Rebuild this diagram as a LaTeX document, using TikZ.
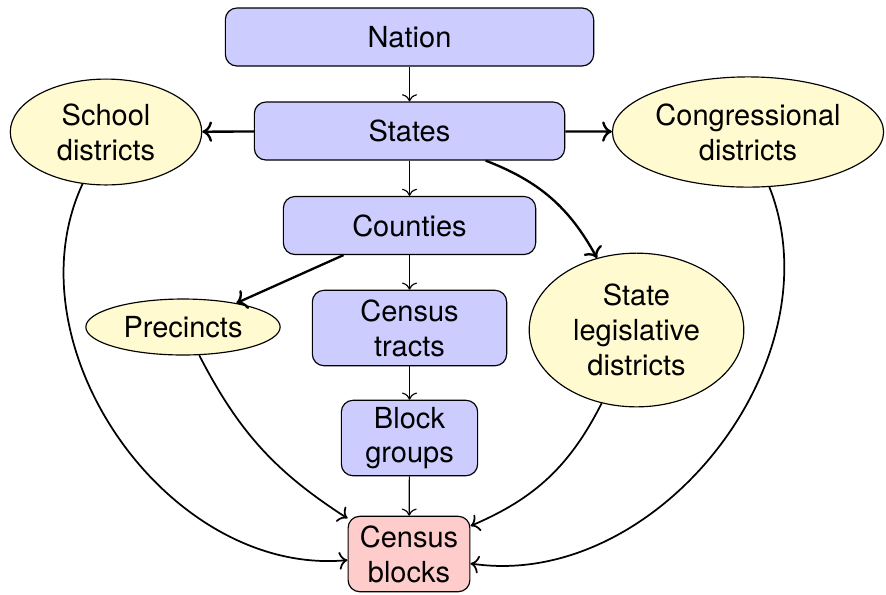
\documentclass[tikz,border=0pt]{standalone}
\usepackage{fontspec}
\setsansfont{TeX Gyre Heros}
\usepackage{tikz}
\usetikzlibrary{arrows.meta, positioning, shapes.geometric}
\definecolor{geoblue}{RGB}{204, 204, 255}
\definecolor{geoyellow}{RGB}{255, 250, 208}
\definecolor{geored}{RGB}{255, 204, 204}

\begin{document}
\begin{tikzpicture}[x=0.3448pt, y=-0.3448pt, font=\sffamily,
  unit/.style={draw, rounded corners=4pt, fill=geoblue, align=center,
    inner sep=0pt, minimum height=20pt},
  district/.style={draw, ellipse, fill=geoyellow, align=center, inner sep=0pt},
  link/.style={->, thin},
  feed/.style={->, thick},
  merge/.style={->, semithick}]

  \useasboundingbox (0,0) rectangle (886,594);

  % --- census hierarchy (boxes) ---
  \node[unit, minimum width=127pt] (nation) at (409.5,37) {Nation};
  \node[unit, minimum width=107pt] (states) at (409.5,131) {States};
  \node[unit, minimum width=87pt] (counties) at (409.5,225.5) {Counties};
  \node[unit, minimum width=67pt, minimum height=26pt] (tracts) at (409.5,328)
    {Census\\tracts};
  \node[unit, minimum width=47pt, minimum height=26pt] (groups) at (409.5,438)
    {Block\\groups};
  \node[unit, fill=geored, minimum width=42pt, minimum height=26pt] (blocks)
    at (409,554) {Census\\blocks};

  % --- districts (ellipses) ---
  \node[district, minimum width=66pt, minimum height=36.5pt] (school) at (106,132)
    {School\\districts};
  \node[district, minimum width=93.5pt, minimum height=38pt] (congress) at (748,132)
    {Congressional\\districts};
  \node[district, minimum width=67pt, minimum height=19.3pt] (precincts) at (183,327)
    {Precincts};
  \node[district, minimum width=74pt, minimum height=53pt] (legis) at (636.5,330)
    {State\\legislative\\districts};

  % --- main chain ---
  \foreach \a/\b in {nation/states, states/counties, counties/tracts,
                     tracts/groups, groups/blocks}
    \draw[link] (\a) -- (\b);

  % --- branches ---
  \draw[feed] (states) -- (school);
  \draw[feed] (states) -- (congress);
  \draw[feed] (states) to[bend left=20] (legis);
  \draw[feed] (counties) -- (precincts);

  % --- everything ends in census blocks ---
  \draw[merge] (school) to[bend right=60] (blocks);
  \draw[merge] (precincts) to[bend right=15] (blocks);
  \draw[merge] (legis) to[bend left=20] (blocks);
  \draw[merge] (congress) to[bend left=60] (blocks);

\end{tikzpicture}
\end{document}
